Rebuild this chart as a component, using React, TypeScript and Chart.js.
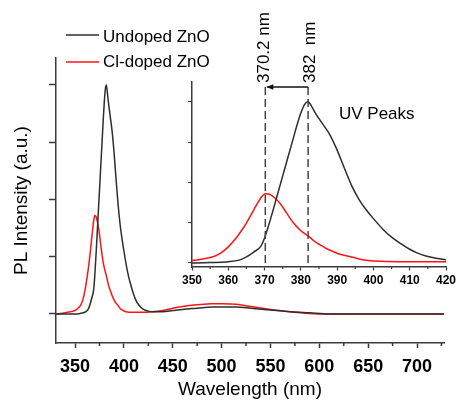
import React, { useEffect, useRef } from 'react';
import { Chart, registerables } from 'chart.js';

Chart.register(...registerables);

// ---------- data ----------
const undopedWavelength = [330, 340, 350, 355, 360, 363, 365, 367, 369, 370, 371, 372, 373, 374, 375, 376, 377, 378, 379, 380, 381, 382, 383, 384, 386, 388, 390, 392, 394, 396, 398, 400, 403, 405, 407, 410, 412, 415, 420, 425, 430, 440, 450, 460, 475, 490, 500, 515, 530, 550, 570, 590, 610, 650, 700, 728];
const undopedIntensity = [0.0, 0.0, 0.0, 0.01, 0.03, 0.07, 0.15, 0.27, 0.42, 0.62, 0.9, 1.2, 1.52, 1.84, 2.16, 2.48, 2.8, 3.12, 3.44, 3.72, 3.93, 4.0, 3.88, 3.72, 3.45, 3.18, 2.8, 2.35, 1.92, 1.58, 1.32, 1.1, 0.8, 0.64, 0.51, 0.34, 0.25, 0.16, 0.08, 0.05, 0.04, 0.04, 0.06, 0.08, 0.1, 0.12, 0.12, 0.12, 0.1, 0.07, 0.04, 0.02, 0.0, 0.0, 0.0, 0.0];

const clDopedWavelength = [330, 340, 345, 350, 353, 356, 358, 360, 362, 364, 365, 366, 367.8, 369, 370.2, 371.5, 373, 374.2, 376, 378, 380, 382, 384, 385.3, 387, 389, 391, 393.5, 396, 398, 402, 410, 420, 430, 440, 450, 460, 475, 490, 500, 515, 530, 550, 570, 590, 605, 650, 700, 728];
const clDopedIntensity = [0.0, 0.02, 0.04, 0.06, 0.1, 0.16, 0.25, 0.4, 0.6, 0.85, 0.99, 1.15, 1.44, 1.62, 1.72, 1.7, 1.6, 1.49, 1.25, 0.99, 0.8, 0.67, 0.52, 0.45, 0.36, 0.28, 0.21, 0.16, 0.1, 0.07, 0.04, 0.03, 0.03, 0.04, 0.06, 0.1, 0.13, 0.16, 0.18, 0.18, 0.17, 0.13, 0.08, 0.04, 0.01, 0.0, 0.0, 0.0, 0.0];

const seriesLabels = ['Undoped ZnO', 'Cl-doped ZnO'];
const seriesColors = ['#2e2e2e', '#ff1414'];

const mainXTicks = [350, 400, 450, 500, 550, 600, 650, 700];
const mainXMinorTicks = [375, 425, 475, 525, 575, 625, 675, 725];
const mainYTicks = [0, 1, 2, 3, 4];

const insetXTicks = [350, 360, 370, 380, 390, 400, 410, 420];
const insetXMinorTicks = [355, 365, 375, 385, 395, 405, 415];
const insetYTicks = [0, 1, 2, 3, 4];

const peakWavelengths = [370.2, 382];
const peakLabels = ['370.2 nm', '382  nm'];
const insetNote = 'UV Peaks';

const xTitle = 'Wavelength (nm)';
const yTitle = 'PL Intensity (a.u.)';

// ---------- styles ----------
const FONT = "'Liberation Sans', Arial, Helvetica, sans-serif";
const AXIS = '#3a3a3a';

function makeDatasets() {
  const xs = [undopedWavelength, clDopedWavelength];
  const ys = [undopedIntensity, clDopedIntensity];
  return seriesLabels.map((label, i) => ({
    label,
    data: xs[i].map((x, j) => ({ x, y: ys[i][j] })),
    borderColor: seriesColors[i],
    backgroundColor: seriesColors[i],
    borderWidth: 1.5,
    pointRadius: 0,
    fill: false,
    cubicInterpolationMode: 'monotone' as const,
  }));
}

const mainDecor = {
  id: 'mainDecor',
  afterDraw(chart: any) {
    const ctx = chart.ctx;
    const xs = chart.scales.x;
    ctx.save();
    ctx.strokeStyle = AXIS;
    ctx.lineWidth = 1.5;
    mainXMinorTicks.forEach((v) => {
      if (v < xs.min || v > xs.max) return;
      const px = xs.getPixelForValue(v);
      ctx.beginPath();
      ctx.moveTo(px, xs.top);
      ctx.lineTo(px, xs.top + 3);
      ctx.stroke();
    });
    // legend
    const lineYs = [35, 62];
    const textYs = [37.5, 62.5];
    chart.data.datasets.forEach((ds: any, i: number) => {
      ctx.strokeStyle = ds.borderColor;
      ctx.lineWidth = 1.5;
      ctx.beginPath();
      ctx.moveTo(66, lineYs[i]);
      ctx.lineTo(99, lineYs[i]);
      ctx.stroke();
      ctx.fillStyle = '#000';
      ctx.font = `17px ${FONT}`;
      ctx.textAlign = 'left';
      ctx.textBaseline = 'middle';
      ctx.fillText(ds.label, 103, textYs[i]);
    });
    ctx.restore();
  },
};

const insetDecor = {
  id: 'insetDecor',
  afterDraw(chart: any) {
    const ctx = chart.ctx;
    const xs = chart.scales.x;
    const ys = chart.scales.y;
    const area = chart.chartArea;
    ctx.save();
    ctx.strokeStyle = AXIS;
    ctx.lineWidth = 1.2;
    insetXMinorTicks.forEach((v) => {
      const px = xs.getPixelForValue(v);
      ctx.beginPath();
      ctx.moveTo(px, xs.top);
      ctx.lineTo(px, xs.top + 2);
      ctx.stroke();
    });
    const topY = area.top + 5;
    // dashed marker lines
    ctx.strokeStyle = '#444';
    ctx.lineWidth = 1.5;
    ctx.setLineDash([8, 4]);
    peakWavelengths.forEach((w) => {
      const px = xs.getPixelForValue(w);
      ctx.beginPath();
      ctx.moveTo(px, topY);
      ctx.lineTo(px, area.bottom);
      ctx.stroke();
    });
    ctx.setLineDash([]);
    // arrow
    const xa = xs.getPixelForValue(peakWavelengths[0]);
    const xb = xs.getPixelForValue(peakWavelengths[1]);
    ctx.strokeStyle = '#111';
    ctx.lineWidth = 1.5;
    ctx.beginPath();
    ctx.moveTo(xb, topY);
    ctx.lineTo(xa + 2, topY);
    ctx.stroke();
    ctx.fillStyle = '#111';
    ctx.beginPath();
    ctx.moveTo(xa + 1, topY);
    ctx.lineTo(xa + 8, topY - 2.8);
    ctx.lineTo(xa + 8, topY + 2.8);
    ctx.closePath();
    ctx.fill();
    // rotated labels
    ctx.fillStyle = '#000';
    ctx.font = `17px ${FONT}`;
    ctx.textAlign = 'left';
    ctx.textBaseline = 'middle';
    const offs = [-1, 2];
    peakWavelengths.forEach((w, i) => {
      const px = xs.getPixelForValue(w) + offs[i];
      ctx.save();
      ctx.translate(px, area.top + 1);
      ctx.rotate(-Math.PI / 2);
      ctx.fillText(peakLabels[i], 0, 0);
      ctx.restore();
    });
    // note
    ctx.font = `17px ${FONT}`;
    ctx.textAlign = 'left';
    ctx.textBaseline = 'middle';
    ctx.fillText(insetNote, xs.getPixelForValue(390.5), ys.getPixelForValue(3.7));
    ctx.restore();
  },
};

export default function App() {
  const mainRef = useRef<HTMLCanvasElement | null>(null);
  const insetRef = useRef<HTMLCanvasElement | null>(null);

  useEffect(() => {
    Chart.defaults.font.family = FONT;
    Chart.defaults.color = '#000';

    const main = new Chart(mainRef.current as HTMLCanvasElement, {
      type: 'line',
      data: { datasets: makeDatasets() as any },
      options: {
        animation: false,
        responsive: false,
        maintainAspectRatio: false,
        devicePixelRatio: 1,
        events: [],
        layout: { padding: { left: 0, top: 58, right: 12, bottom: 0 } },
        plugins: { legend: { display: false }, tooltip: { enabled: false }, title: { display: false } },
        scales: {
          x: {
            type: 'linear',
            position: 'bottom',
            min: 330.5,
            max: 727.6,
            afterBuildTicks: (s: any) => {
              s.ticks = mainXTicks.map((v) => ({ value: v }));
            },
            afterFit: (s: any) => {
              s.height = 65;
            },
            grid: { display: true, drawOnChartArea: false, drawTicks: true, tickLength: 5, tickColor: AXIS, tickWidth: 1.5 },
            border: { display: true, color: AXIS, width: 1.5 },
            ticks: { color: '#000', font: { size: 18, weight: 'bold', family: FONT }, padding: 8, maxRotation: 0, autoSkip: false },
            title: { display: true, text: xTitle, color: '#000', font: { size: 19, family: FONT }, padding: { top: 0, bottom: 6.6 } },
          },
          y: {
            type: 'linear',
            position: 'left',
            min: -0.507,
            max: 4.471,
            afterBuildTicks: (s: any) => {
              s.ticks = mainYTicks.map((v) => ({ value: v }));
            },
            afterFit: (s: any) => {
              s.width = 56;
            },
            grid: { display: true, drawOnChartArea: false, drawTicks: true, tickLength: 7, tickColor: AXIS, tickWidth: 1.5 },
            border: { display: true, color: AXIS, width: 1.5 },
            ticks: { display: false },
            title: { display: true, text: yTitle, color: '#000', font: { size: 19, family: FONT }, padding: { top: 10, bottom: 0 } },
          },
        },
      } as any,
      plugins: [mainDecor],
    });

    const inset = new Chart(insetRef.current as HTMLCanvasElement, {
      type: 'line',
      data: { datasets: makeDatasets() as any },
      options: {
        animation: false,
        responsive: false,
        maintainAspectRatio: false,
        devicePixelRatio: 1,
        events: [],
        layout: { padding: { left: 0, top: 82, right: 24, bottom: 0 } },
        plugins: { legend: { display: false }, tooltip: { enabled: false }, title: { display: false } },
        scales: {
          x: {
            type: 'linear',
            position: 'bottom',
            min: 350,
            max: 420,
            afterBuildTicks: (s: any) => {
              s.ticks = insetXTicks.map((v) => ({ value: v }));
            },
            afterFit: (s: any) => {
              s.height = 33;
            },
            grid: { display: true, drawOnChartArea: false, drawTicks: true, tickLength: 3.5, tickColor: AXIS, tickWidth: 1.2 },
            border: { display: true, color: AXIS, width: 1.5 },
            ticks: { color: '#000', font: { size: 12, weight: 'bold', family: FONT }, padding: 2.5, maxRotation: 0, autoSkip: false },
          },
          y: {
            type: 'linear',
            position: 'left',
            min: -0.1,
            max: 4.49,
            afterBuildTicks: (s: any) => {
              s.ticks = insetYTicks.map((v) => ({ value: v }));
            },
            afterFit: (s: any) => {
              s.width = 52;
            },
            grid: { display: true, drawOnChartArea: false, drawTicks: true, tickLength: 4, tickColor: AXIS, tickWidth: 1.2 },
            border: { display: true, color: AXIS, width: 1.5 },
            ticks: { display: false },
          },
        },
      } as any,
      plugins: [insetDecor],
    });

    return () => {
      main.destroy();
      inset.destroy();
    };
  }, []);

  return (
    <div style={{ position: 'absolute', left: 0, top: 0, width: 456, height: 408, overflow: 'hidden', background: '#fff' }}>
      <canvas ref={mainRef} width={456} height={408} style={{ position: 'absolute', left: 0, top: 0, width: 456, height: 408 }} />
      <canvas ref={insetRef} width={330} height={300} style={{ position: 'absolute', left: 140, top: 0, width: 330, height: 300 }} />
    </div>
  );
}
